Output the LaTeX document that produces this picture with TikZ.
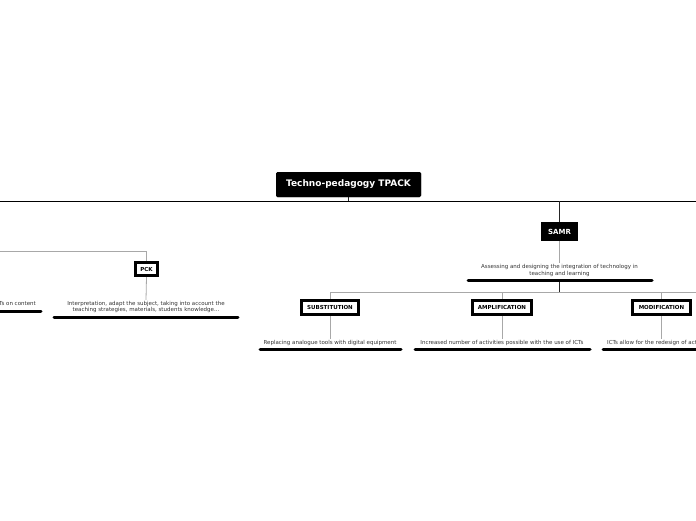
\documentclass[tikz,border=0pt]{standalone}
\usepackage{fontspec}
\setmainfont{DejaVu Sans}
\definecolor{conn}{HTML}{A8A8A8}
\definecolor{txt}{HTML}{333333}
\begin{document}
\begin{tikzpicture}[x=1pt,y=-1pt,
  rootbox/.style={fill=black, rounded corners=1.5pt, text=white, font=\bfseries\fontsize{9}{10}\selectfont, minimum width=145pt, minimum height=25pt, inner sep=0pt},
  blackbox/.style={fill=black, text=white, font=\bfseries\fontsize{7}{8}\selectfont, minimum width=37pt, minimum height=19pt, inner sep=0pt},
  whitebox/.style={draw=black, line width=2.8pt, fill=white, font=\bfseries\fontsize{5.5}{6.5}\selectfont, minimum height=14pt, inner sep=0pt},
  desc/.style={text=txt, font=\fontsize{5.5}{6.6}\selectfont, align=center, inner sep=1pt},
  uline/.style={line width=3pt, line cap=round, black},
  grayline/.style={draw=conn, line width=0.8pt},
  darkline/.style={draw=black!85, line width=0.9pt}
]
\useasboundingbox (0,0) rectangle (696,520);
\clip (0,0) rectangle (696,520);
\fill[white] (0,0) rectangle (696,520);

% nodes
\node[rootbox] (root) at (348.5,184.5) {Techno-pedagogy TPACK};
\node[blackbox] (samr) at (559.5,231.5) {SAMR};
\node[desc] (samrtxt) at (559.5,270.5) {Assessing and designing the integration of technology in\\teaching and learning};
\node[whitebox, minimum width=57pt] (sub) at (330,307.5) {SUBSTITUTION};
\node[whitebox, minimum width=59pt] (amp) at (502,307.5) {AMPLIFICATION};
\node[whitebox, minimum width=58pt] (mod) at (661.5,307.5) {MODIFICATION};
\node[desc] (subtxt) at (330,342.5) {Replacing analogue tools with digital equipment};
\node[desc] (amptxt) at (502,342.5) {Increased number of activities possible with the use of ICTs};
\node[desc, anchor=west] (modtxt) at (606,342.5) {ICTs allow for the redesign of activities};
\node[whitebox, minimum width=22pt, minimum height=13pt] (pck) at (146.5,269) {PCK};
\node[desc] (pcktxt) at (146,307) {Interpretation, adapt the subject, taking into account the\\teaching strategies, materials, students knowledge...};
\node[desc, anchor=east] (lefttxt) at (37,303.5) {ICTs on content};

% coordinates
\coordinate (hl) at (-5,201);
\coordinate (hr) at (701,201);
\coordinate (rootj) at (348.5,201);
\coordinate (samrj) at (559.5,201);
\coordinate (samrul) at (559.5,280);
\coordinate (bj) at (559.5,292);
\coordinate (bl) at (330,292);
\coordinate (br) at (701,292);
\coordinate (ampj) at (502,292);
\coordinate (modj) at (661.5,292);
\coordinate (ll) at (-5,251);
\coordinate (lc) at (146.5,251);

% connectors
\draw[black, line width=0.9pt] (hl) -- (hr);
\draw[darkline] (root.south) -- (rootj);
\draw[darkline] (samrj) -- (samr.north);
\draw[grayline] (samr.south) -- (samrtxt.north);
\draw[darkline] (samrul) -- (bj);
\draw[grayline] (bl) -- (br);
\draw[grayline] (bl) -- (sub.north);
\draw[grayline] (ampj) -- (amp.north);
\draw[grayline] (modj) -- (mod.north);
\draw[grayline] (sub.south) -- (subtxt.north);
\draw[grayline] (amp.south) -- (amptxt.north);
\draw[grayline] (mod.south) -- (mod.south |- modtxt.north);
\draw[grayline] (ll) -- (lc) -- (pck.north);
\draw[grayline] (pck.south) -- (pcktxt.north);

% underlines
\draw[uline] (468,280) -- (652,280);
\draw[uline] (260,349) -- (401,349);
\draw[uline] (415,349) -- (590,349);
\draw[uline] (603,349) -- (705,349);
\draw[uline] (54,317) -- (238,317);
\draw[uline] (-10,311) -- (41,311);

% redraw nodes on top
\node[rootbox] at (root) {Techno-pedagogy TPACK};
\node[blackbox] at (samr) {SAMR};
\node[whitebox, minimum width=57pt] at (sub) {SUBSTITUTION};
\node[whitebox, minimum width=59pt] at (amp) {AMPLIFICATION};
\node[whitebox, minimum width=58pt] at (mod) {MODIFICATION};
\node[whitebox, minimum width=22pt, minimum height=13pt] at (pck) {PCK};
\end{tikzpicture}
\end{document}
